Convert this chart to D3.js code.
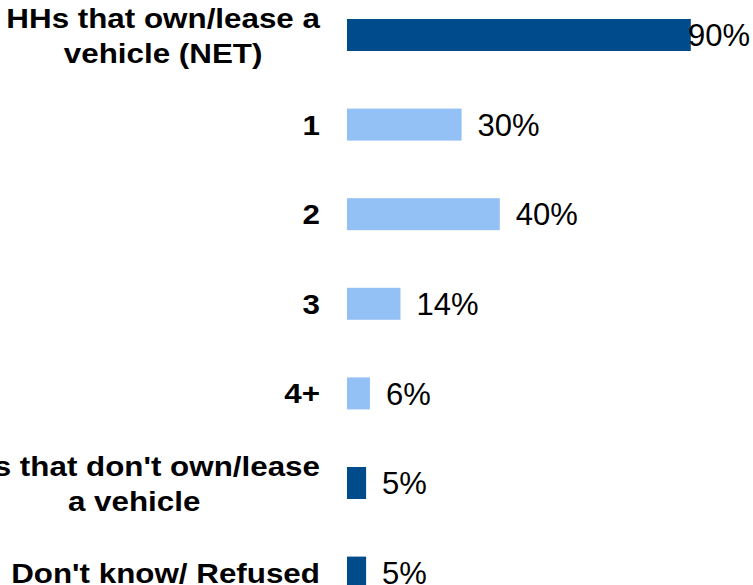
<!DOCTYPE html>
<html>
<head>
<meta charset="utf-8">
<script src="https://cdn.jsdelivr.net/npm/d3@7"></script>
<style>
  html, body { margin: 0; padding: 0; background: #fff; overflow: hidden; }
  svg { display: block; }
</style>
</head>
<body>
<svg id="chart" width="753" height="585"></svg>
<script>
const categories = ["net", "1", "2", "3", "4+", "none", "dk"];
const labelLines = [
  ["HHs that own/lease a", "vehicle (NET)"],
  ["1"],
  ["2"],
  ["3"],
  ["4+"],
  ["HHs that don't own/lease", "a vehicle"],
  ["Don't know/ Refused"]
];
const values = [90, 30, 40, 14, 6, 5, 5];
const groups = ["total", "sub", "sub", "sub", "sub", "total", "total"];

const W = 753, H = 585;
const svg = d3.select("#chart");

const x = d3.scaleLinear().domain([0, 100]).range([347, 729]);
const y = d3.scalePoint().domain(categories).range([35, 572.6]);
const color = d3.scaleOrdinal().domain(["total", "sub"]).range(["#004B8C", "#93C1F6"]);
const barH = 32;

// bars
svg.append("g").selectAll("rect")
  .data(categories)
  .join("rect")
  .attr("x", x(0))
  .attr("y", (d) => y(d) - barH / 2)
  .attr("width", (d, i) => x(values[i]) - x(0))
  .attr("height", barH)
  .attr("fill", (d, i) => color(groups[i]));

// value labels
const vl = svg.append("g").selectAll("text")
  .data(categories)
  .join("text")
  .attr("y", (d) => y(d))
  .attr("dy", "0.36em")
  .attr("font-family", "'Liberation Sans', Arial, sans-serif")
  .attr("font-size", 31)
  .attr("fill", "#000")
  .text((d, i) => values[i] + "%");
vl.each(function (d, i) {
  const w = this.getComputedTextLength();
  const px = Math.min(x(values[i]) + 16, W - w - 3);
  d3.select(this).attr("x", px);
});

// category labels
const labelRight = 320;
const lineH = 35;
const sx = 1.12;
const lg = svg.append("g")
  .attr("font-family", "'Liberation Sans', Arial, sans-serif")
  .attr("font-weight", "bold")
  .attr("font-size", 28)
  .attr("fill", "#000");

categories.forEach((c, i) => {
  const lines = labelLines[i];
  const g = lg.append("g");
  const n = lines.length;
  const texts = lines.map((ln, k) =>
    g.append("text")
      .attr("dy", "0.36em")
      .attr("text-anchor", "middle")
      .text(ln)
  );
  const widths = texts.map((t) => t.node().getComputedTextLength() * sx);
  const maxW = d3.max(widths);
  const center = labelRight - maxW / 2;
  texts.forEach((t, k) => {
    const ty = y(c) + (k - (n - 1) / 2) * lineH;
    t.attr("transform", `translate(${center},${ty}) scale(${sx},1)`);
  });
});
</script>
</body>
</html>
